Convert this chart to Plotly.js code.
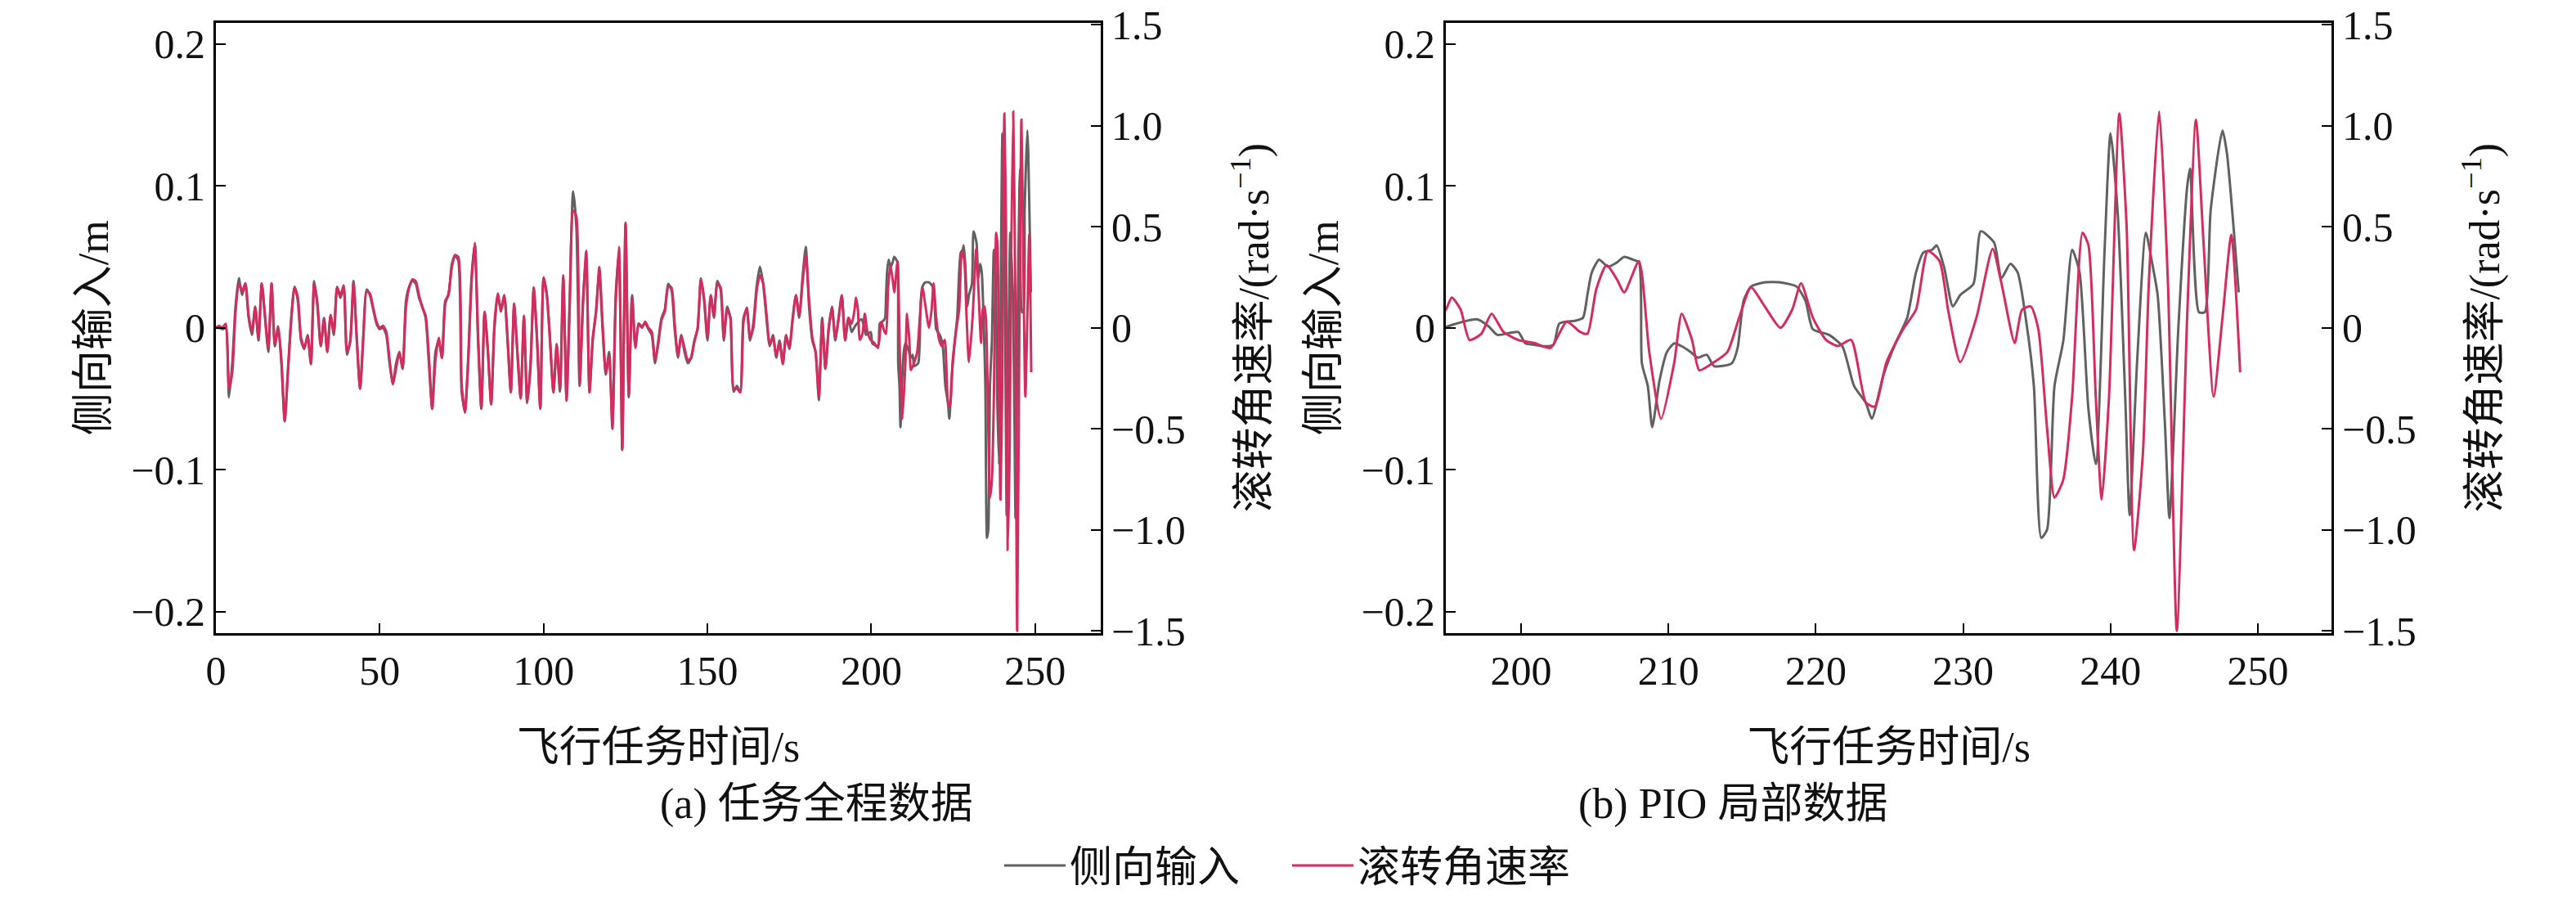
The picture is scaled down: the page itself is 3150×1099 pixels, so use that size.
<!DOCTYPE html>
<html>
<head>
<meta charset="utf-8">
<script src="https://cdn.plot.ly/plotly-3.0.1.min.js"></script>
<style>
  html, body { margin: 0; padding: 0; background: #fff; }
  #chart { width: 3150px; height: 1099px; }
</style>
</head>
<body>
<div id="chart"></div>
<script>
// coarse part of the mission, read at 1 s steps (both series)
let coarseTime = [0,1,2,3,4,5,6,7,8,9,10,11,12,13,14,15,16,17,18,19,20,21,22,23,24,25,26,27,28,29,30,31,32,33,34,35,36,37,38,39,40,41,42,43,44,45,46,47,48,49,50,51,52,53,54,55,56,57,58,59,60,61,62,63,64,65,66,67,68,69,70,71,72,73,74,75,76,77,78,79,80,81,82,83,84,85,86,87,88,89,90,91,92,93,94,95,96,97,98,99,100,101,102,103,104,105,106,107,108,109,110,111,112,113,114,115,116,117,118,119,120,121,122,123,124,125,126,127,128,129,130,131,132,133,134,135,136,137,138,139,140,141,142,143,144,145,146,147,148,149,150,151,152,153,154,155,156,157,158,159,160,161,162,163,164,165,166,167,168,169,170,171,172,173,174,175,176,177,178,179,180,181,182,183,184,185,186,187,188,189,190,191,192,193,194];

let coarseLat = [0,0,-0.001,0,-0.049,-0.025,0.015,0.035,0.023,0.031,0.007,-0.005,0.015,-0.009,0.031,0.007,-0.017,0.031,-0.013,0.001,-0.025,-0.066,-0.029,0.007,0.029,0.019,-0.009,-0.015,-0.005,-0.025,0.033,0.015,-0.013,0.007,-0.017,0.009,-0.005,0.029,0.021,0.029,-0.019,-0.009,0.033,-0.009,-0.043,-0.005,0.027,0.023,0.013,0.003,-0.001,0,-0.005,-0.025,-0.039,-0.025,-0.017,-0.029,0.019,0.029,0.033,0.031,0.021,0.015,0.007,-0.025,-0.057,-0.017,-0.009,-0.021,0.019,0.023,0.045,0.051,0.047,-0.045,-0.059,-0.021,0.035,0.059,-0.009,-0.057,0.011,-0.015,-0.053,-0.001,0.023,0.013,0.023,-0.009,-0.045,0.015,-0.017,-0.049,0.007,-0.053,-0.025,0.027,-0.009,-0.057,0.035,0.023,-0.009,-0.045,-0.013,-0.045,0.035,-0.049,0.023,0.096,0.071,-0.041,0.019,0.051,-0.045,-0.009,0.011,0.039,-0.001,-0.033,-0.017,-0.069,0.023,0.051,-0.086,0.073,-0.049,0.023,-0.013,0.003,0.001,0.003,-0.001,-0.005,-0.025,-0.009,0.007,0.013,0.031,0.027,-0.001,-0.021,-0.005,-0.017,-0.025,-0.021,-0.009,-0.001,0.035,0.019,-0.009,0.023,0.007,0.033,0.027,-0.009,0.015,0.007,-0.045,-0.041,-0.045,0.007,0.013,-0.009,0.003,0.029,0.043,0.031,0.007,-0.013,-0.005,-0.021,-0.009,-0.025,-0.005,-0.015,0.007,0.023,0.007,0.035,0.057,0.015,-0.009,-0.017,-0.051,0.007,-0.029,-0.001,0.015,-0.009,0.007,0.023,-0.009,0.007,-0.003];

let coarseRoll = [0,0.01,0,0.02,-0.30,-0.22,0.08,0.22,0.18,0.22,0.06,-0.02,0.10,-0.05,0.22,0.06,-0.10,0.22,-0.08,0,-0.16,-0.46,-0.22,0.04,0.20,0.15,-0.05,-0.10,-0.04,-0.18,0.22,0.12,-0.09,0.04,-0.12,0.06,-0.02,0.20,0.16,0.21,-0.12,-0.07,0.22,-0.05,-0.30,-0.05,0.18,0.17,0.10,0.03,0,0.01,-0.02,-0.16,-0.28,-0.20,-0.12,-0.20,0.10,0.20,0.24,0.23,0.16,0.10,0.06,-0.14,-0.40,-0.16,-0.05,-0.15,0.12,0.17,0.30,0.36,0.35,-0.28,-0.42,-0.17,0.22,0.42,-0.03,-0.40,0.08,-0.12,-0.38,0.02,0.17,0.08,0.16,-0.05,-0.32,0.12,-0.12,-0.35,0.06,-0.37,-0.20,0.20,-0.05,-0.40,0.25,0.16,-0.08,-0.32,-0.08,-0.30,0.26,-0.36,0.12,0.58,0.55,-0.28,0.10,0.38,-0.32,-0.05,0.08,0.30,0.02,-0.22,-0.14,-0.50,0.12,0.40,-0.60,0.52,-0.33,0.15,-0.10,0.02,0,0.03,0,-0.02,-0.16,-0.08,0.04,0.08,0.20,0.20,0.02,-0.14,-0.04,-0.10,-0.16,-0.15,-0.07,0,0.24,0.14,-0.05,0.16,0.06,0.22,0.20,-0.05,0.09,0.05,-0.30,-0.30,-0.32,0.03,0.10,-0.05,0,0.18,0.26,0.22,0.07,-0.08,-0.05,-0.14,-0.07,-0.18,-0.04,-0.10,0.04,0.16,0.06,0.22,0.36,0.14,-0.05,-0.12,-0.34,0.03,-0.20,0,0.10,-0.05,0.04,0.16,-0.06,0.05,0.02];

// PIO part (195 s onward), read in finer steps
let pioLatTime = [195,197,197.8,198.4,199.8,200.3,200.9,201.6,202.2,202.6,203.7,204.2,204.5,204.8,205.3,205.9,206.5,207,207.6,208,208.2,208.6,208.9,209.4,209.9,210.4,210.9,211.5,212,212.6,213.1,214.3,214.7,215.1,215.6,216.5,217.6,218.7,219.3,219.8,220.9,221.8,222.6,223.4,223.8,224.6,225.4,226.2,226.8,227.3,227.9,228.2,228.7,229.3,229.8,230.7,231.2,232.1,232.6,233.2,233.7,234.3,234.8,235.3,235.7,236.2,236.8,237.4,237.9,238.5,239,239.6,240,240.5,241,241.3,241.8,242.4,242.8,243.2,243.7,244,244.6,245.2,245.4,246,246.4,246.8,247.6,247.9,248.7];
let pioLat = [0.001,0.006,0.001,-0.005,-0.003,-0.011,-0.012,-0.013,-0.012,0.003,0.005,0.007,0.023,0.039,0.048,0.043,0.046,0.05,0.048,0.046,-0.025,-0.041,-0.07,-0.037,-0.017,-0.011,-0.013,-0.017,-0.021,-0.019,-0.027,-0.025,-0.014,0.019,0.029,0.032,0.032,0.029,0.019,-0.001,-0.005,-0.013,-0.041,-0.053,-0.064,-0.033,-0.011,0.007,0.039,0.053,0.055,0.058,0.043,0.015,0.023,0.031,0.068,0.060,0.035,0.045,0.039,0.003,-0.041,-0.148,-0.142,-0.041,-0.009,0.055,0.039,-0.057,-0.096,0.055,0.137,0.079,-0.049,-0.132,-0.025,0.067,0.047,0.023,-0.069,-0.134,-0.001,0.099,0.112,0.011,0.011,0.083,0.139,0.123,0.025];

let pioRollTime = [194.9,195.3,195.9,196.5,197.3,198,198.8,199.8,200.9,202,203.1,204,204.5,205.1,205.8,206.5,207,208,208.7,209.5,210.4,210.9,211.6,212.1,213.1,214,214.8,215.6,216.5,217.6,218.4,219,219.8,220.7,221.5,222.4,223.4,224,224.8,225.9,226.8,227.6,228.4,229,229.8,230.9,232,232.6,233.5,234,234.6,235.1,235.7,236.2,236.8,237.4,238.1,238.5,239,239.4,239.9,240.6,241.1,241.6,242.2,242.6,243.3,243.9,244.5,245.2,245.8,246.3,247,247.6,248.2,248.8];
let pioRoll = [0.09,0.15,0.09,-0.06,-0.03,0.07,-0.02,-0.06,-0.075,-0.10,0.03,-0.02,-0.03,0.19,0.31,0.24,0.175,0.33,-0.12,-0.45,-0.17,0.07,-0.06,-0.21,-0.17,-0.12,0.05,0.20,0.11,0,0.09,0.22,0.05,-0.06,-0.09,-0.06,-0.37,-0.39,-0.17,-0.01,0.09,0.38,0.33,0.08,-0.17,0.05,0.39,0.22,-0.075,0.09,0.105,-0.005,-0.5,-0.84,-0.75,-0.34,0.47,0.41,-0.34,-0.85,-0.34,1.06,0.49,-1.10,-0.62,0.22,1.07,0.22,-1.5,0.05,1.03,0.44,-0.34,0.05,0.46,-0.22];

let latTicks = [-0.2,-0.1,0,0.1,0.2];
let latTickText = ['\u22120.2','\u22120.1','0','0.1','0.2'];
let rollTicks = [-1.5,-1,-0.5,0,0.5,1,1.5];
let rollTickText = ['\u22121.5','\u22121.0','\u22120.5','0','0.5','1.0','1.5'];

let latTime = coarseTime.concat(pioLatTime);
let latAll = coarseLat.concat(pioLat);
let rollTime = coarseTime.concat(pioRollTime);
let rollAll = coarseRoll.concat(pioRoll);

let grayColor = '#616161';
let redColor = '#d42c5e';
let serif = '"Liberation Serif", "Times New Roman", "Noto Sans CJK SC", serif';

function lineTrace(x, y, xa, ya, color, name, show){
    return {x: x, y: y, xaxis: xa, yaxis: ya, type: 'scatter', mode: 'lines',
        line: {color: color, width: 3, shape: 'spline', smoothing: 0.6},
        name: name, showlegend: show, legendgroup: name};
}

let traces = [
    lineTrace(latTime, latAll, 'x', 'y', grayColor, '侧向输入', true),
    lineTrace(rollTime, rollAll, 'x', 'y2', redColor, '滚转角速率', true),
    lineTrace(latTime, latAll, 'x2', 'y3', grayColor, '侧向输入', false),
    lineTrace(rollTime, rollAll, 'x2', 'y4', redColor, '滚转角速率', false)
];

let tickFont = {family: serif, size: 50, color: '#111'};
let titleFont = {family: serif, size: 52, color: '#111'};
let yDomain = [0.2848, 0.9745];

function xAxis(domain, range, anchor, tickvals){
    return {domain: domain, range: range, anchor: anchor, tickvals: tickvals,
        ticks: 'inside', ticklen: 12, tickwidth: 2, tickcolor: '#000',
        showline: true, linecolor: '#000', linewidth: 3, mirror: true,
        showgrid: false, zeroline: false, tickfont: tickFont,
        title: {text: '飞行任务时间/s', font: titleFont, standoff: 48}};
}
function leftAxis(anchor){
    return {domain: yDomain, range: [-0.215, 0.215], anchor: anchor,
        tickvals: latTicks, ticktext: latTickText,
        ticks: 'inside', ticklen: 12, tickwidth: 2, tickcolor: '#000',
        showline: true, linecolor: '#000', linewidth: 3,
        showgrid: false, zeroline: false, tickfont: tickFont,
        title: {text: '侧向输入/m', font: titleFont, standoff: 12}};
}
function rightAxis(over, anchor){
    return {domain: yDomain, range: [-1.51, 1.51], overlaying: over, anchor: anchor, side: 'right',
        tickvals: rollTicks, ticktext: rollTickText,
        ticks: 'inside', ticklen: 12, tickwidth: 2, tickcolor: '#000',
        showline: true, linecolor: '#000', linewidth: 3,
        showgrid: false, zeroline: false, tickfont: tickFont,
        title: {text: '滚转角速率/(rad·s<sup>\u22121</sup>)', font: titleFont, standoff: 66}};
}

let layout = {
    width: 3150, height: 1099,
    margin: {l: 0, r: 0, t: 0, b: 0},
    paper_bgcolor: '#fff', plot_bgcolor: '#fff',
    font: {family: serif, color: '#111'},
    xaxis: xAxis([0.0838, 0.4273], [0, 270], 'y', [0,50,100,150,200,250]),
    yaxis: leftAxis('x'),
    yaxis2: rightAxis('y', 'x'),
    xaxis2: xAxis([0.5613, 0.9051], [194.9, 255], 'y3', [200,210,220,230,240,250]),
    yaxis3: leftAxis('x2'),
    yaxis4: rightAxis('y3', 'x2'),
    showlegend: true,
    legend: {orientation: 'h', x: 0.5, xanchor: 'center', y: 0.022, yanchor: 'middle',
        font: {family: serif, size: 52, color: '#111'}, itemwidth: 75,
        entrywidth: 262, entrywidthmode: 'pixels', bgcolor: 'rgba(0,0,0,0)'},
    annotations: [
        {text: '(a) 任务全程数据', xref: 'paper', yref: 'paper', x: 0.2556, y: 0.0919,
            yanchor: 'middle', showarrow: false, font: titleFont},
        {text: '(b) PIO 局部数据', xref: 'paper', yref: 'paper', x: 0.7333, y: 0.0919,
            yanchor: 'middle', showarrow: false, font: titleFont}
    ]
};

Plotly.newPlot('chart', traces, layout, {staticPlot: true});
</script>
</body>
</html>
